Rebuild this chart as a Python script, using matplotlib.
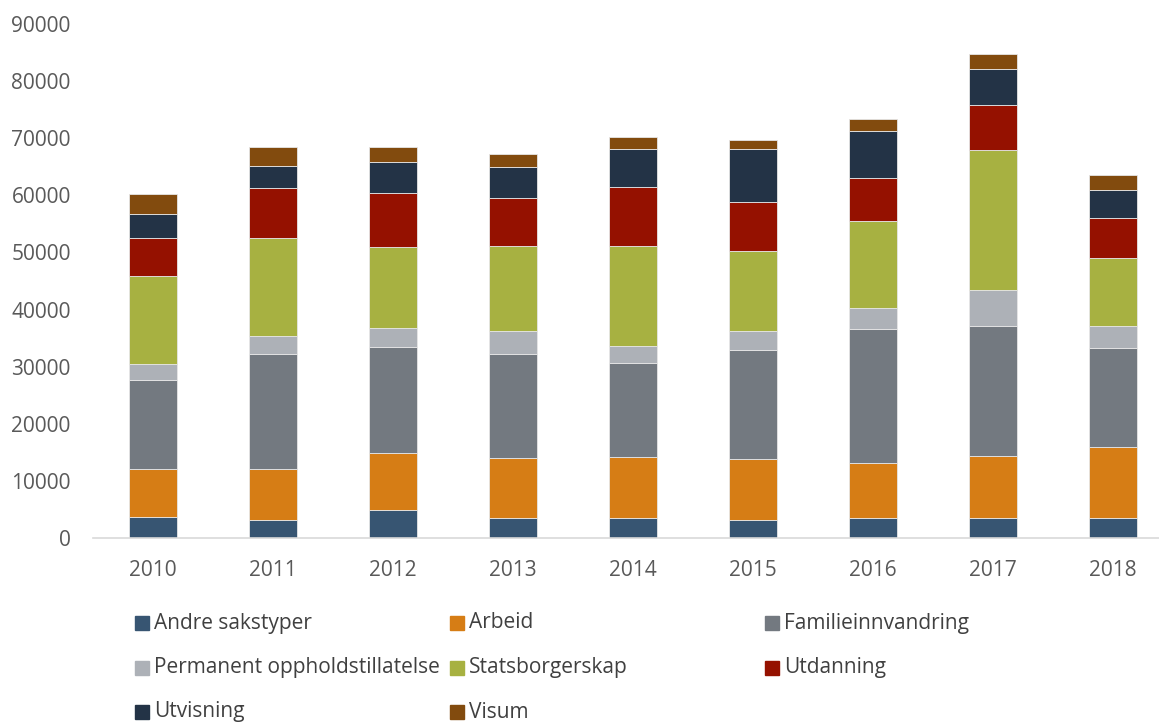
import numpy as np
from matplotlib import pyplot as plt
from matplotlib.patches import Rectangle

years = ["2010", "2011", "2012", "2013", "2014", "2015", "2016", "2017", "2018"]
categories = [
    "Andre sakstyper",
    "Arbeid",
    "Familieinnvandring",
    "Permanent oppholdstillatelse",
    "Statsborgerskap",
    "Utdanning",
    "Utvisning",
    "Visum",
]
andre = [3700, 3200, 4950, 3550, 3440, 3090, 3550, 3550, 3550]
arbeid = [8300, 8860, 9850, 10380, 10660, 10670, 9650, 10850, 12450]
familie = [15700, 20140, 18700, 18370, 16500, 19140, 23400, 22700, 17300]
permanent = [2850, 3200, 3200, 4000, 3100, 3400, 3700, 6400, 3900]
statsborger = [15300, 17200, 14200, 14800, 17350, 13900, 15200, 24450, 11750]
utdanning = [6700, 8600, 9500, 8400, 10450, 8700, 7600, 7950, 7150]
utvisning = [4100, 4000, 5500, 5400, 6600, 9200, 8200, 6300, 4800]
visum = [3600, 3300, 2600, 2400, 2200, 1600, 2100, 2500, 2600]

series = [andre, arbeid, familie, permanent, statsborger, utdanning, utvisning, visum]
colors = ["#375572", "#D67D15", "#737980", "#ADB1B7",
          "#A7B141", "#951100", "#233346", "#824B0E"]

plt.rcParams["font.family"] = ["Open Sans", "DejaVu Sans"]

W, H = 1159, 722
fig = plt.figure(figsize=(W / 100, H / 100), dpi=100)
ax = fig.add_axes([93 / W, (H - 538) / H, 1080 / W, 514 / H])

x = np.arange(len(years))
bottom = np.zeros(len(years))
for vals, col in zip(series, colors):
    ax.bar(x, vals, width=0.4, bottom=bottom, color=col,
           edgecolor="#e6e6e6", linewidth=0.6)
    bottom += np.array(vals)

ax.set_xlim(-0.5, 8.5)
ax.set_ylim(0, 90000)
ax.set_yticks(range(0, 90001, 10000))
ax.set_xticks(x)
ax.set_xticklabels(years)
ax.tick_params(axis="both", length=0, labelsize=15, colors="#595959")
ax.tick_params(axis="x", pad=16)
ax.tick_params(axis="y", pad=16)
for s in ["top", "right", "left"]:
    ax.spines[s].set_visible(False)
ax.spines["bottom"].set_color("#d9d9d9")
ax.spines["bottom"].set_linewidth(1.2)

# legend laid out in a 3-column grid like the original
for i, (name, col) in enumerate(zip(categories, colors)):
    row, c = divmod(i, 3)
    px = 135 + c * 315
    py = 623 + row * 44.5
    fig.patches.append(Rectangle((px / W, 1 - (py + 7) / H), 14 / W, 14 / H,
                                 transform=fig.transFigure, color=col))
    fig.text((px + 19) / W, 1 - py / H, name, fontsize=15,
             color="#404040", va="center", ha="left")

fig.savefig("out.png", dpi=100)
